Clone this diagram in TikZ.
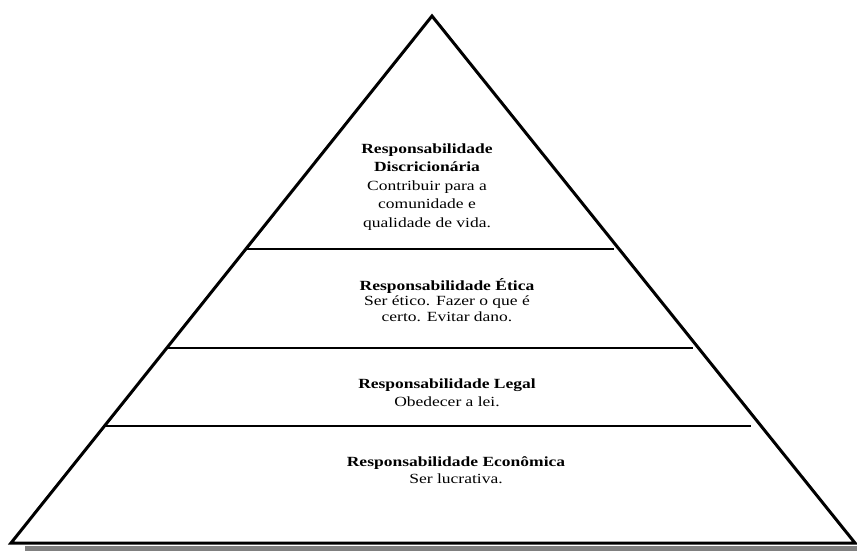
\documentclass[tikz,border=0pt]{standalone}
\usepackage{fontspec}
\setmainfont{Liberation Serif}
\usepackage{tikz}
\usetikzlibrary{positioning}
\definecolor{shadowgray}{RGB}{128,128,128}

\begin{document}
\begin{tikzpicture}[
    x=1pt, y=-1pt,
    pyramid/.style={draw=black, line width=3pt, fill=white, line join=miter},
    divider/.style={draw=black, line width=1.3pt},
    layer/.style={align=center, inner sep=0pt, xscale=1.25, transform shape, font=\fontsize{14}{17}\selectfont}
]

% Page frame
\useasboundingbox (0,0) rectangle (857,551);

% Shadow under the base
\fill[shadowgray] (25,546) rectangle (857,551);

% Pyramid outline
\coordinate (apex) at (432,16);
\coordinate (baseL) at (11,543);
\coordinate (baseR) at (855,543);
\draw[pyramid] (apex) -- (baseL) -- (baseR) -- cycle;

% Layer dividers
\coordinate (d1a) at (246,249);
\coordinate (d1b) at (614,249);
\coordinate (d2a) at (166,348);
\coordinate (d2b) at (693,348);
\coordinate (d3a) at (104,426);
\coordinate (d3b) at (751,426);
\draw[divider] (d1a) -- (d1b);
\draw[divider] (d2a) -- (d2b);
\draw[divider] (d3a) -- (d3b);

% Top layer
\node[layer, font=\fontsize{14}{18.5}\selectfont] (discr) at (427,187) {\textbf{Responsabilidade}\\\textbf{Discricionária}\\Contribuir para a\\comunidade e\\qualidade de vida.};

% Ethics
\node[layer, font=\fontsize{14}{15.5}\selectfont] (etica) at (447,300) {\textbf{Responsabilidade Ética}\\Ser ético. Fazer o que é\\certo. Evitar dano.};

% Legal
\node[layer, font=\fontsize{14}{18}\selectfont] (legal) at (447,393) {\textbf{Responsabilidade Legal}\\Obedecer a lei.};

% Economic
\node[layer] (econ) at (456,470) {\textbf{Responsabilidade Econômica}\\Ser lucrativa.};

\end{tikzpicture}
\end{document}
